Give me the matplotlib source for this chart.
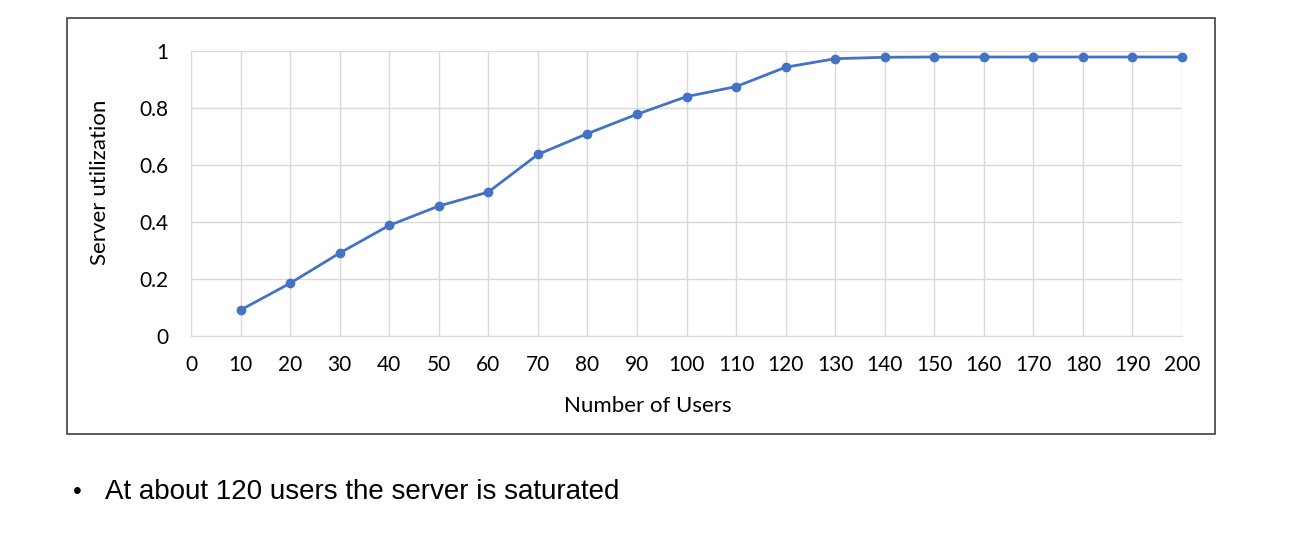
import matplotlib.pyplot as plt
from matplotlib.patches import Rectangle

users = [10, 20, 30, 40, 50, 60, 70, 80, 90, 100,
         110, 120, 130, 140, 150, 160, 170, 180, 190, 200]
utilization = [0.091, 0.185, 0.291, 0.388, 0.456, 0.505, 0.637, 0.710, 0.778, 0.840,
               0.875, 0.943, 0.973, 0.978, 0.979, 0.979, 0.979, 0.979, 0.979, 0.979]
x_ticks = list(range(0, 201, 10))
y_ticks = [0, 0.2, 0.4, 0.6, 0.8, 1]
y_labels = ["0", "0.2", "0.4", "0.6", "0.8", "1"]

chart_font = "Lato"

fig = plt.figure(figsize=(12.93, 5.48), dpi=100)

# frame around the chart
fig.patches.append(Rectangle((67 / 1293, 114 / 548), (1215 - 67) / 1293, (434 - 18) / 548,
                             transform=fig.transFigure, fill=False,
                             edgecolor="#404040", linewidth=1.2))

ax = fig.add_axes([191 / 1293, 212 / 548, (1182 - 191) / 1293, (497 - 212) / 548])
ax.plot(users, utilization, color="#4472C4", linewidth=2,
        marker="o", markersize=6, zorder=3, clip_on=False)

ax.set_xlim(0, 200)
ax.set_ylim(0, 1)
ax.set_xticks(x_ticks)
ax.set_yticks(y_ticks)
ax.set_yticklabels(y_labels)
ax.grid(True, color="#d9d9d9", linewidth=1)
ax.set_axisbelow(True)
for side in ["top", "right", "left"]:
    ax.spines[side].set_visible(False)
ax.spines["bottom"].set_color("#d9d9d9")
ax.tick_params(length=0, labelsize=15)
ax.tick_params(axis="x", pad=14)
ax.tick_params(axis="y", pad=16.5)
for lbl in ax.get_xticklabels() + ax.get_yticklabels():
    lbl.set_family(chart_font)

ax.set_xlabel("Number of Users", fontsize=16, family=chart_font, labelpad=15)
ax.set_ylabel("Server utilization", fontsize=16, family=chart_font, labelpad=21)
# labels sit a bit off-centre in the original
ax.xaxis.label.set_x(0.461)
ax.yaxis.label.set_y(0.54)

fig.text(73 / 1293, 1 - 492 / 548, "\u2022", fontsize=18, family="Liberation Sans", va="center")
fig.text(105 / 1293, 1 - 492 / 548, "At about 120 users the server is saturated",
         fontsize=20, family="Liberation Sans", va="center")

fig.savefig("out.png", dpi=100)
